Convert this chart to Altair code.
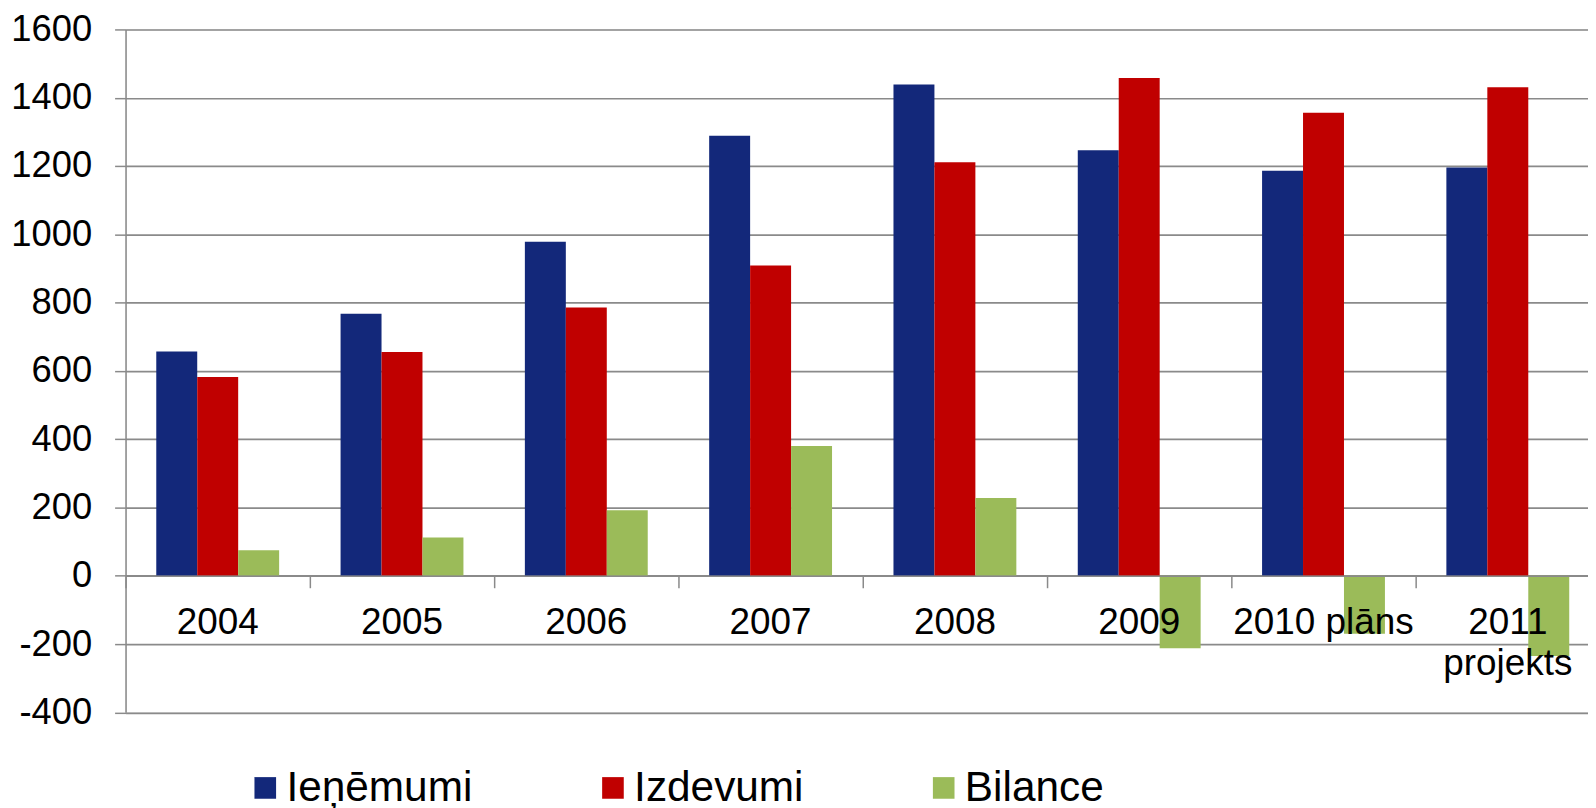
import altair as alt
import pandas as pd

categories = ["2004", "2005", "2006", "2007", "2008", "2009", "2010 plāns", "2011 projekts"]
ienemumi = [657, 767, 978, 1289, 1439, 1246, 1186, 1196]
izdevumi = [582, 655, 786, 909, 1211, 1458, 1356, 1431]
bilance = [75, 112, 192, 380, 228, -212, -170, -235]
series = ["Ieņēmumi", "Izdevumi", "Bilance"]
colors = ["#13287A", "#C00000", "#9BBB59"]
y_ticks = [-400, -200, 0, 200, 400, 600, 800, 1000, 1200, 1400, 1600]

rows = []
for s, vals in zip(series, [ienemumi, izdevumi, bilance]):
    for c, v in zip(categories, vals):
        rows.append({"Gads": c, "Rādītājs": s, "Vērtība": v})
df = pd.DataFrame(rows)

GRAY = "#8a8a8a"
FONT = "Liberation Sans"
W = 1468
H = 685.5

chart = alt.Chart(df).mark_bar().encode(
    x=alt.X(
        "Gads:N", sort=categories, title=None,
        scale=alt.Scale(range=[0, 1480], paddingInner=0, paddingOuter=0),
        axis=alt.Axis(
            labelAngle=0, offset=-0.2 * H, bandPosition=0, tickSize=12,
            tickColor=GRAY, tickWidth=1.5, domainColor=GRAY, domainWidth=1.5,
            labelPadding=17, labelFontSize=37, labelLineHeight=41,
            labelFont=FONT, labelColor="black", labelBaseline="top",
            grid=False, labelOverlap=False, labelLimit=0, zindex=1,
            labelExpr="datum.label == '2011 projekts' ? ['2011', 'projekts'] : datum.label",
        ),
    ),
    xOffset=alt.XOffset("Rādītājs:N", sort=series,
                        scale=alt.Scale(paddingOuter=0.75, paddingInner=0)),
    y=alt.Y(
        "Vērtība:Q", title=None,
        scale=alt.Scale(domain=[-400, 1600], nice=False),
        axis=alt.Axis(
            values=y_ticks, labelFontSize=36.5, labelFont=FONT, labelColor="black",
            labelPadding=23, tickSize=11, tickColor=GRAY, tickWidth=1.5,
            domainColor=GRAY, domainWidth=1.5, gridColor=GRAY, gridWidth=1.6,
            grid=True, labelLimit=0, labelExpr="datum.value + ''",
        ),
    ),
    color=alt.Color(
        "Rādītājs:N", sort=series,
        scale=alt.Scale(domain=series, range=colors),
        legend=alt.Legend(
            title=None, orient="none", legendX=119, legendY=740,
            direction="horizontal", symbolType="square", symbolSize=471,
            symbolStrokeWidth=0, symbolOpacity=1, labelFontSize=42.5, labelFont=FONT,
            labelColor="black", labelOffset=0, columnPadding=119, padding=0,
            labelLimit=0,
        ),
    ),
).properties(
    width=W, height=H,
    padding={"left": 118, "top": 20, "right": 0, "bottom": 94},
    autosize=alt.AutoSizeParams(type="none"),
).configure_view(stroke=None).configure(background="white")

chart.save("out.html", embed_options={"renderer": "svg", "actions": False})
